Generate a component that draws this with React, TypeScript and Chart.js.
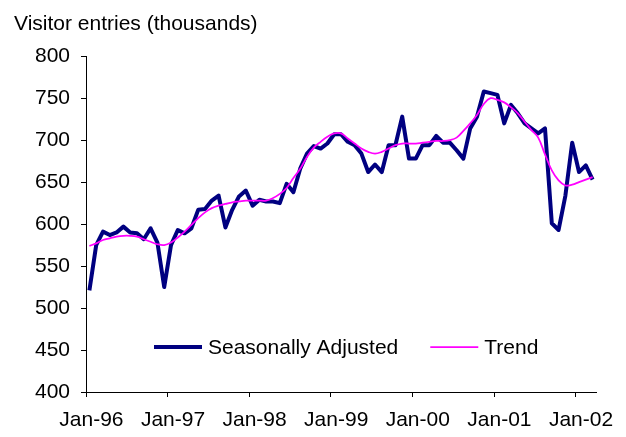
import React, { useEffect, useRef } from 'react';
import { Chart, registerables } from 'chart.js';

Chart.register(...registerables);

const FONT = '"Liberation Sans", Arial, Helvetica, sans-serif';

const monthNames = ['Jan', 'Feb', 'Mar', 'Apr', 'May', 'Jun', 'Jul', 'Aug', 'Sep', 'Oct', 'Nov', 'Dec'];
const yearSuffixes = ['96', '97', '98', '99', '00', '01', '02'];
const monthCount = 75; // Jan-96 .. Mar-02

const categories: string[] = [];
for (const yy of yearSuffixes) {
  for (const m of monthNames) {
    if (categories.length < monthCount) categories.push(`${m}-${yy}`);
  }
}

const tickLabels = ['Jan-96', 'Jan-97', 'Jan-98', 'Jan-99', 'Jan-00', 'Jan-01', 'Jan-02'];

const seasonallyAdjusted = [
  521, 575, 591, 587, 590, 597, 590, 589, 582, 595, 578, 525,
  575, 593, 589, 595, 617, 618, 628, 634, 596, 617, 633, 640,
  622, 629, 627, 627, 625, 648, 638, 666, 684, 693, 690, 696,
  707, 707, 698, 694, 684, 662, 671, 662, 694, 694, 728, 678,
  678, 694, 694, 705, 697, 697, 688, 678, 714, 728, 758, 756,
  754, 720, 742, 732, 720, 714, 708, 714, 601, 593, 634, 697,
  662, 670, 653,
];

const trend = [
  574, 577, 581, 583, 585, 586, 586, 585, 582, 579, 576, 575,
  578, 584, 591, 599, 607, 614, 619, 622, 624, 626, 627, 628,
  628, 628, 628, 631, 636, 643, 655, 666, 680, 691, 698, 704,
  708, 708, 702, 696, 690, 686, 684, 686, 690, 694, 696, 696,
  696, 697, 698, 699, 699, 700, 703, 711, 720, 730, 743, 750,
  748, 745, 739, 732, 722, 712, 703, 683, 664, 652, 646, 647,
  650, 653, 656,
];

const yMin = 400;
const yMax = 800;
const yStep = 50;

const inlineLegend = {
  id: 'inlineLegend',
  afterDraw(chart: any) {
    const { ctx, chartArea } = chart;
    const y = chartArea.bottom - 45;
    let x = chartArea.left + 68;
    ctx.save();
    ctx.font = `21px ${FONT}`;
    ctx.textBaseline = 'middle';
    ctx.textAlign = 'left';
    chart.data.datasets.forEach((ds: any) => {
      ctx.strokeStyle = ds.borderColor;
      ctx.lineWidth = ds.borderWidth;
      ctx.beginPath();
      ctx.moveTo(x, y);
      ctx.lineTo(x + 48, y);
      ctx.stroke();
      ctx.fillStyle = '#000';
      ctx.fillText(ds.label, x + 54, y + 1);
      x += 54 + ctx.measureText(ds.label).width + 32;
    });
    ctx.restore();
  },
};

export default function App() {
  const ref = useRef<HTMLCanvasElement | null>(null);

  useEffect(() => {
    if (!ref.current) return;
    const chart = new Chart(ref.current, {
      type: 'line',
      data: {
        labels: categories,
        datasets: [
          {
            label: 'Seasonally Adjusted',
            data: seasonallyAdjusted,
            borderColor: '#000080',
            backgroundColor: '#000080',
            borderWidth: 4,
            pointRadius: 0,
            tension: 0,
            borderJoinStyle: 'round',
            order: 1,
          },
          {
            label: 'Trend',
            data: trend,
            borderColor: '#FF00FF',
            backgroundColor: '#FF00FF',
            borderWidth: 1.75,
            pointRadius: 0,
            tension: 0.4,
            order: 0,
          },
        ],
      },
      options: {
        responsive: false,
        animation: false,
        layout: { padding: { left: 6, right: 22, top: 0, bottom: 0 } },
        plugins: {
          legend: { display: false },
          tooltip: { enabled: false },
          title: {
            display: true,
            text: 'Visitor entries (thousands)',
            align: 'start',
            color: '#000',
            font: { family: FONT, size: 21, weight: 'normal' },
            padding: { top: 4, bottom: 19 },
          },
        },
        scales: {
          x: {
            type: 'category',
            offset: true,
            grid: {
              display: true,
              drawOnChartArea: false,
              drawTicks: true,
              tickLength: 5,
              offset: true,
              color: (c: any) =>
                c.index !== undefined && c.index % 12 === 0 ? '#000' : 'rgba(0,0,0,0)',
            },
            border: { display: true, color: '#000', width: 1 },
            ticks: {
              autoSkip: false,
              maxRotation: 0,
              minRotation: 0,
              padding: 11,
              labelOffset: 2,
              color: '#000',
              font: { family: FONT, size: 21 },
              callback: (_v: any, idx: number) =>
                idx % 12 === 0 ? tickLabels[idx / 12] : '',
            },
            afterFit: (s: any) => {
              s.height = 37;
            },
          },
          y: {
            min: yMin,
            max: yMax,
            grid: {
              display: true,
              drawOnChartArea: false,
              drawTicks: true,
              tickLength: 5,
              color: '#000',
            },
            border: { display: true, color: '#000', width: 1 },
            ticks: {
              stepSize: yStep,
              padding: 11,
              color: '#000',
              font: { family: FONT, size: 21 },
            },
            afterFit: (s: any) => {
              s.width = 72;
            },
          },
        },
      },
      plugins: [inlineLegend],
    });
    return () => chart.destroy();
  }, []);

  return (
    <div style={{ width: 610, height: 421 }}>
      <canvas ref={ref} width={610} height={421} style={{ display: 'block' }} />
    </div>
  );
}
